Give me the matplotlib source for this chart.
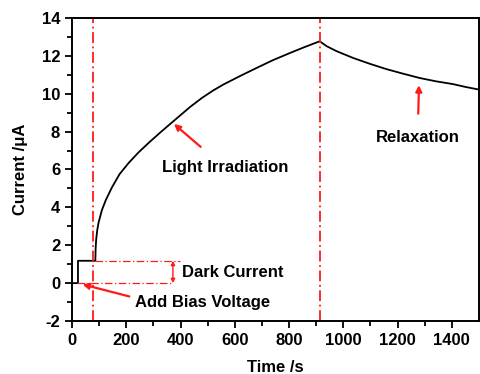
import matplotlib
matplotlib.use("Agg")
import matplotlib.pyplot as plt
import numpy as np

# data
time_s = [0, 22, 22, 86, 87, 89, 93, 98, 110, 125, 147, 175, 209, 245, 282, 325, 368,
          435, 479, 520, 557, 620, 680, 740, 803, 860, 913,
          940, 975, 1036, 1100, 1159, 1220, 1282, 1340, 1404, 1450, 1500]
current_ua = [0, 0, 1.18, 1.18, 1.8, 2.3, 2.8, 3.2, 3.85, 4.4, 5.05, 5.75, 6.35, 6.9, 7.4, 7.95, 8.48,
              9.30, 9.78, 10.17, 10.48, 10.94, 11.36, 11.77, 12.15, 12.48, 12.77,
              12.5, 12.25, 11.89, 11.57, 11.30, 11.06, 10.83, 10.66, 10.51, 10.36, 10.22]

light_on = 76
light_off = 915
dark_level = 1.18

plt.rcParams['font.family'] = ['Liberation Sans', 'DejaVu Sans']
plt.rcParams['axes.unicode_minus'] = False

fig = plt.figure(figsize=(4.81, 3.74), dpi=100)
ax = fig.add_axes([0.1497, 0.1417, 0.8461, 0.8102])

ax.plot(time_s, current_ua, color='black', lw=1.3)

red = '#ff1a1a'
dd = (6, 2, 1, 2)
ax.axvline(light_on, color=red, lw=1.3, dashes=dd)
ax.axvline(light_off, color=red, lw=1.3, dashes=dd)
ax.plot([light_on + 10, 398], [dark_level, dark_level], color=red, lw=0.9, dashes=dd)
ax.plot([20, 365], [0, 0], color=red, lw=0.9, dashes=dd)

arrow = dict(arrowstyle='-|>', color=red, lw=1.6, mutation_scale=9)
ax.annotate('', xy=(368, 8.5), xytext=(482, 7.1), arrowprops=arrow)
ax.annotate('', xy=(1279, 10.6), xytext=(1276, 8.8), arrowprops=arrow)
ax.annotate('', xy=(29, -0.03), xytext=(221, -0.74), arrowprops=arrow)
ax.annotate('', xy=(372, dark_level), xytext=(372, 0),
            arrowprops=dict(arrowstyle='<|-|>', color=red, lw=1.0, mutation_scale=6,
                            shrinkA=0, shrinkB=0))

ax.text(563, 6.1, 'Light Irradiation', fontsize=12, fontweight='bold', ha='center', va='center')
ax.text(1274, 7.7, 'Relaxation', fontsize=12, fontweight='bold', ha='center', va='center')
ax.text(405, 0.55, 'Dark Current', fontsize=12, fontweight='bold', ha='left', va='center')
ax.text(232, -1.0, 'Add Bias Voltage', fontsize=12, fontweight='bold', ha='left', va='center')

ax.set_xlim(0, 1500)
ax.set_ylim(-2, 14)
ax.set_xticks(np.arange(0, 1401, 200))
ax.set_yticks(np.arange(-2, 15, 2))
ax.set_xticks(np.arange(100, 1500, 200), minor=True)
ax.set_yticks(np.arange(-1, 14, 2), minor=True)
ax.tick_params(which='major', direction='out', length=5, width=1.3, labelsize=12, pad=3.5)
ax.tick_params(which='minor', direction='out', length=3.5, width=1.3)
for lab in ax.get_xticklabels() + ax.get_yticklabels():
    lab.set_fontweight('bold')
for sp in ax.spines.values():
    sp.set_linewidth(1.4)

ax.set_xlabel('Time /s', fontsize=12, fontweight='bold', labelpad=8.5)
ax.set_ylabel('Current /μA', fontsize=12, fontweight='bold', labelpad=10)

fig.savefig('out.png', dpi=100)
